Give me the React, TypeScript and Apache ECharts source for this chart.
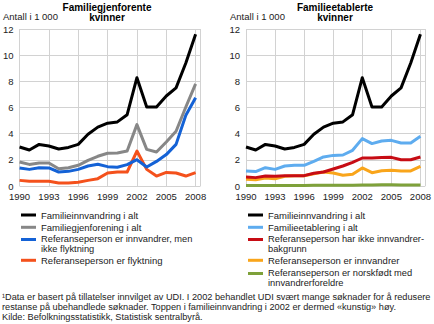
import React, { useEffect, useRef } from "react";
import * as echarts from "echarts";

const years = [1990, 1991, 1992, 1993, 1994, 1995, 1996, 1997, 1998, 1999, 2000, 2001, 2002, 2003, 2004, 2005, 2006, 2007, 2008];
const yTicks = [0, 2, 4, 6, 8, 10, 12];

const familieinnvandring = [2.98, 2.75, 3.18, 3.06, 2.83, 2.95, 3.18, 3.95, 4.5, 4.8, 4.9, 5.45, 8.28, 6.04, 6.04, 6.88, 7.5, 9.4, 11.6];
const familiegjenforening = [1.83, 1.65, 1.76, 1.76, 1.32, 1.4, 1.58, 1.96, 2.27, 2.5, 2.52, 2.67, 4.69, 2.8, 2.6, 3.36, 4.18, 6.04, 7.8];
const innvandrerIkkeFlyktning = [1.38, 1.27, 1.4, 1.38, 1.07, 1.12, 1.27, 1.53, 1.66, 1.48, 1.43, 1.63, 2.01, 1.45, 1.88, 2.4, 3.18, 5.4, 6.75];
const flyktning = [0.43, 0.36, 0.36, 0.36, 0.23, 0.23, 0.28, 0.43, 0.56, 0.99, 1.07, 1.07, 2.67, 1.27, 0.76, 1.04, 0.99, 0.76, 1.02];

const familieetablering = [1.15, 1.1, 1.4, 1.27, 1.53, 1.58, 1.58, 1.88, 2.22, 2.34, 2.37, 2.73, 3.62, 3.24, 3.44, 3.49, 3.29, 3.29, 3.8];
const ikkeInnvandrerbakgrunn = [0.69, 0.64, 0.76, 0.74, 0.79, 0.79, 0.79, 0.97, 1.07, 1.3, 1.53, 1.81, 2.14, 2.14, 2.17, 2.19, 2.01, 2.01, 2.22];
const innvandrer = [0.51, 0.48, 0.61, 0.56, 0.74, 0.79, 0.79, 0.94, 1.07, 0.99, 0.82, 0.89, 1.38, 1.02, 1.17, 1.2, 1.15, 1.15, 1.5];
const norskfodt = [0.03, 0.03, 0.03, 0.03, 0.04, 0.04, 0.04, 0.05, 0.05, 0.05, 0.06, 0.06, 0.07, 0.08, 0.09, 0.09, 0.08, 0.08, 0.08];

const N_ALT = "Familieinnvandring i alt";
const N_GJEN = "Familiegjenforening i alt";
const N_INNV_MEN = "Referanseperson er innvandrer, men\nikke flyktning";
const N_FLYKT = "Referanseperson er flyktning";
const N_ETAB = "Familieetablering i alt";
const N_IKKE = "Referanseperson har ikke innvandrer-\nbakgrunn";
const N_INNV = "Referanseperson er innvandrer";
const N_NORSK = "Referanseperson er norskfødt med\ninnvandrerforeldre";

const FONT = "'Liberation Sans', Arial, sans-serif";
const TXT = "#222";
const GRIDC = "#d2d2d2";
const BASE = years[0];

// legend icon: 3px bar at the top of a taller box, so it lines up with the first text line
const TOP_BAR_ICON = "path://M0,0H15V3H0ZM0,11.99H0.01V12H0Z";

const toXY = (vals: number[]) => vals.map((v, i) => [years[i] - BASE, v]);

export default function App() {
  const ref = useRef<HTMLDivElement>(null);
  useEffect(() => {
    if (!ref.current) return;
    const chart = echarts.init(ref.current, null, { renderer: "svg" });

    const xAxis = (gridIndex: number) => ({
      type: "value",
      gridIndex,
      min: 0,
      max: 18.5,
      interval: 3,
      axisLine: { show: false },
      axisTick: { show: false },
      splitLine: { show: true, lineStyle: { color: GRIDC, width: 1 } },
      axisLabel: {
        margin: 5,
        color: TXT,
        fontFamily: FONT,
        fontSize: 9.5,
        formatter: (v: number) => (Number.isInteger(v) ? String(BASE + v) : ""),
      },
    });
    const yAxis = (gridIndex: number) => ({
      type: "value",
      gridIndex,
      min: yTicks[0],
      max: yTicks[yTicks.length - 1],
      interval: yTicks[1] - yTicks[0],
      axisLine: { show: false },
      axisTick: { show: false },
      splitLine: { show: true, lineStyle: { color: GRIDC, width: 1 } },
      axisLabel: { margin: 6, color: TXT, fontFamily: FONT, fontSize: 9.5 },
    });

    const line = (name: string, data: number[], color: string, idx: number, z: number) => ({
      type: "line",
      name,
      data: toXY(data),
      xAxisIndex: idx,
      yAxisIndex: idx,
      color,
      showSymbol: false,
      symbol: "none",
      lineStyle: { width: 3, color, join: "round" },
      z,
    });

    const legendItem = (name: string, left: number, center: number, multi: boolean) => ({
      data: [name],
      left,
      top: multi ? center - 4.75 : center - 5.5,
      padding: 0,
      icon: multi ? TOP_BAR_ICON : "rect",
      itemWidth: 15,
      itemHeight: multi ? 12 : 3,
      selectedMode: false,
      textStyle: multi
        ? { fontFamily: FONT, fontSize: 9.3, color: TXT, lineHeight: 9.5 }
        : { fontFamily: FONT, fontSize: 9.5, color: TXT, lineHeight: 11 },
    });

    const option = {
      animation: false,
      backgroundColor: "#fff",
      grid: [
        { left: 17, top: 29, width: 183.5, height: 157 },
        { left: 246, top: 29, width: 181, height: 157 },
      ],
      xAxis: [xAxis(0), xAxis(1)],
      yAxis: [yAxis(0), yAxis(1)],
      legend: [
        legendItem(N_ALT, 21, 215, false),
        legendItem(N_GJEN, 21, 227.3, false),
        legendItem(N_INNV_MEN, 21, 239.3, true),
        legendItem(N_FLYKT, 21, 260.3, false),
        legendItem(N_ALT, 248, 215, false),
        legendItem(N_ETAB, 248, 227.3, false),
        legendItem(N_IKKE, 248, 239.3, true),
        legendItem(N_INNV, 248, 260.3, false),
        legendItem(N_NORSK, 248, 273.3, true),
      ],
      series: [
        line(N_FLYKT, flyktning, "#f4511c", 0, 2),
        line(N_INNV_MEN, innvandrerIkkeFlyktning, "#1462d6", 0, 3),
        line(N_GJEN, familiegjenforening, "#878787", 0, 4),
        line(N_ALT, familieinnvandring, "#000000", 0, 5),
        line(N_NORSK, norskfodt, "#7ea13a", 1, 2),
        line(N_INNV, innvandrer, "#f9a51b", 1, 3),
        line(N_IKKE, ikkeInnvandrerbakgrunn, "#c70c14", 1, 4),
        line(N_ETAB, familieetablering, "#5eacef", 1, 5),
        line(N_ALT, familieinnvandring, "#000000", 1, 6),
      ],
      graphic: [
        {
          type: "text",
          x: 107,
          y: 2,
          style: {
            text: "Familiegjenforente\nkvinner",
            textAlign: "center",
            textVerticalAlign: "top",
            fontFamily: FONT,
            fontWeight: "bold",
            fontSize: 10,
            lineHeight: 10,
            fill: "#000",
          },
        },
        {
          type: "text",
          x: 335,
          y: 2,
          style: {
            text: "Familieetablerte\nkvinner",
            textAlign: "center",
            textVerticalAlign: "top",
            fontFamily: FONT,
            fontWeight: "bold",
            fontSize: 10,
            lineHeight: 10,
            fill: "#000",
          },
        },
        {
          type: "text",
          x: 3,
          y: 11,
          style: { text: "Antall i 1 000", fontFamily: FONT, fontSize: 9.5, fill: TXT, textVerticalAlign: "top" },
        },
        {
          type: "text",
          x: 230,
          y: 11,
          style: { text: "Antall i 1 000", fontFamily: FONT, fontSize: 9.5, fill: TXT, textVerticalAlign: "top" },
        },
        {
          type: "text",
          x: 2,
          y: 292,
          style: {
            text:
              "¹Data er basert på tillatelser innvilget av UDI. I 2002 behandlet UDI svært mange søknader for å redusere\nrestanse på ubehandlede søknader. Toppen i familieinnvandring i 2002 er dermed «kunstig» høy.\nKilde: Befolkningsstatistikk, Statistisk sentralbyrå.",
            fontFamily: FONT,
            fontSize: 9.2,
            lineHeight: 10,
            fill: TXT,
            textVerticalAlign: "top",
          },
        },
      ],
    };
    chart.setOption(option as any);
    return () => chart.dispose();
  }, []);
  return <div ref={ref} style={{ position: "absolute", left: 0, top: 0, width: 434, height: 324 }} />;
}
